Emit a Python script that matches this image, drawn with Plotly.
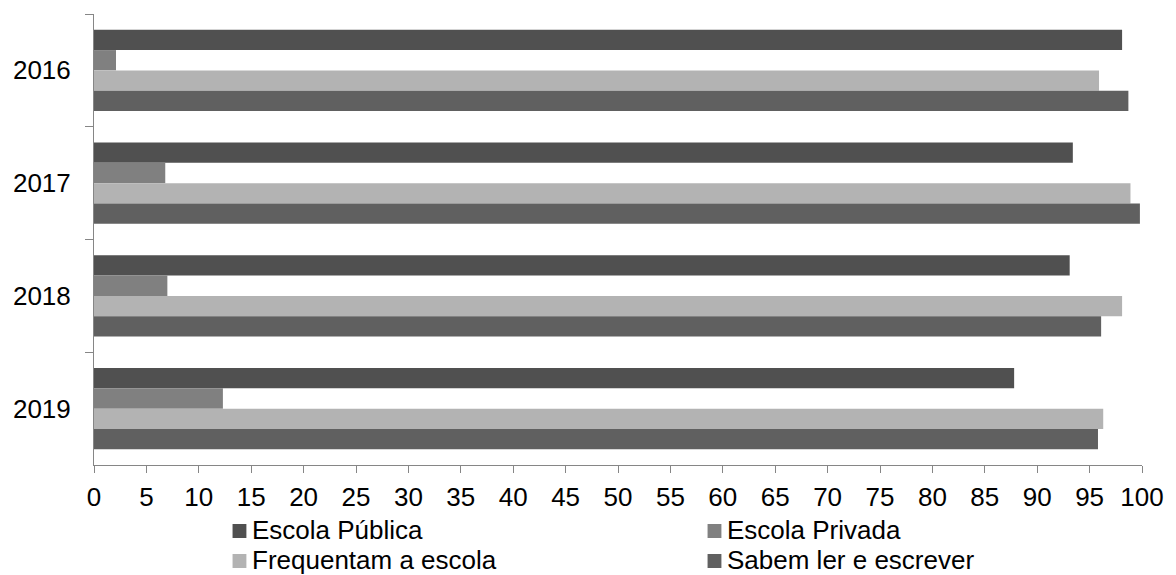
import plotly.graph_objects as go

# Years (categories) and the four indicators, in percent
anos = ["2016", "2017", "2018", "2019"]
escola_publica = [98.1, 93.4, 93.1, 87.8]
escola_privada = [2.1, 6.8, 7.0, 12.3]
frequentam_escola = [95.9, 98.9, 98.1, 96.3]
sabem_ler_escrever = [98.7, 99.8, 96.1, 95.8]

x_ticks = list(range(0, 101, 5))

series = [
    ("Escola Pública", escola_publica, "#505050"),
    ("Escola Privada", escola_privada, "#808080"),
    ("Frequentam a escola", frequentam_escola, "#b3b3b3"),
    ("Sabem ler e escrever", sabem_ler_escrever, "#606060"),
]

FONT = "Liberation Sans, Arial, sans-serif"
FS = 26
W, H = 1176, 575
M_L, M_R, M_T, M_B = 94, 23, 14, 110
PLOT_W = W - M_L - M_R
PLOT_H = H - M_T - M_B


def px_x(px):
    """Pixel column -> paper x."""
    return (px - M_L) / PLOT_W


def px_y(py):
    """Pixel row (from top) -> paper y."""
    return (H - M_B - py) / PLOT_H


fig = go.Figure()
for nome, valores, cor in series:
    fig.add_trace(go.Bar(
        y=anos, x=valores, name=nome, orientation="h",
        marker=dict(color=cor, line=dict(width=0)),
        showlegend=False,
    ))

# Two-column legend below the axis: square swatch + label
legend_cols = [234, 714]
legend_rows = [530, 560]
for i, (nome, _, cor) in enumerate(series):
    cx = legend_cols[i % 2]
    cy = legend_rows[i // 2]
    fig.add_shape(
        type="rect", xref="paper", yref="paper",
        x0=px_x(cx), x1=px_x(cx + 14),
        y0=px_y(cy + 8), y1=px_y(cy - 6),
        fillcolor=cor, line=dict(width=0),
    )
    fig.add_annotation(
        xref="paper", yref="paper",
        x=px_x(cx + 19), y=px_y(cy),
        xanchor="left", yanchor="middle",
        text=nome, showarrow=False, borderpad=0,
        font=dict(family=FONT, size=FS, color="black"),
    )

fig.update_layout(
    width=W, height=H,
    barmode="group", bargap=0.28, bargroupgap=0,
    plot_bgcolor="white", paper_bgcolor="white",
    margin=dict(l=M_L, r=M_R, t=M_T, b=M_B),
    font=dict(family=FONT, size=FS, color="black"),
    showlegend=False,
)

fig.update_xaxes(
    range=[0, 100], tickmode="array", tickvals=x_ticks,
    ticktext=[str(v) for v in x_ticks],
    showgrid=False, zeroline=False,
    showline=True, linecolor="#868686", linewidth=1,
    ticks="outside", ticklen=7, tickcolor="#868686", tickwidth=1,
    ticklabelstandoff=2,
    tickfont=dict(family=FONT, size=FS, color="black"),
)
fig.update_yaxes(
    categoryorder="array", categoryarray=anos, autorange="reversed",
    showgrid=False, zeroline=False,
    showline=True, linecolor="#868686", linewidth=1,
    ticks="outside", ticklen=8, tickcolor="#868686", tickwidth=1,
    tickson="boundaries", ticklabelstandoff=17,
    tickfont=dict(family=FONT, size=FS, color="black"),
)

fig.write_html("out.html")
